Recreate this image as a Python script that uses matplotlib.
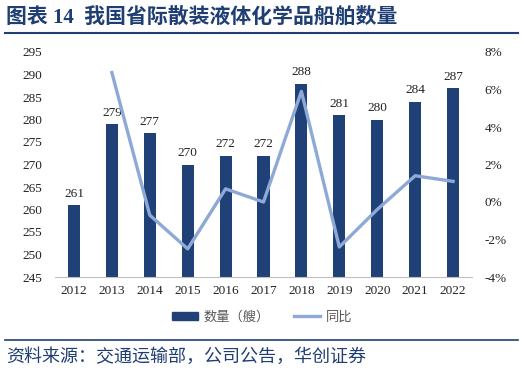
import matplotlib
matplotlib.use("Agg")
import matplotlib.pyplot as plt
from matplotlib.lines import Line2D
from matplotlib.patches import Patch

# Data
years = ['2012', '2013', '2014', '2015', '2016', '2017', '2018', '2019', '2020', '2021', '2022']
ships = [261, 279, 277, 270, 272, 272, 288, 281, 280, 284, 287]
yoy_years = years[1:]
yoy = [6.9, -0.7, -2.5, 0.7, 0.0, 5.9, -2.4, -0.4, 1.4, 1.1]

navy = '#1F4178'
light = '#8EA9D5'
title_blue = '#1F3E74'

serif = ['Liberation Serif', 'Noto Sans CJK SC']
cjk = ['Noto Sans CJK SC', 'DejaVu Sans']

fig = plt.figure(figsize=(5.24, 3.72), dpi=100)
ax = fig.add_axes([55 / 524, 1 - 277 / 372, (472 - 55) / 524, (277 - 52) / 372])
ax2 = ax.twinx()

# Bars on the left axis
x = list(range(len(years)))
ax.bar(x, [v - 245 for v in ships], bottom=245, width=0.32, color=navy, zorder=2)
for xi, v in zip(x, ships):
    ax.text(xi, v + 1.2, str(v), ha='center', va='bottom', fontsize=9.5,
            family=serif, color='#222222')

# Line on the right axis
x2 = list(range(1, len(years)))
ax2.plot(x2, yoy, color=light, linewidth=2.4, zorder=3)

ax.set_xlim(-0.5, len(years) - 0.5)
ax.set_ylim(245, 295)
ax.set_yticks(range(245, 296, 5))
ax2.set_ylim(-4, 8)
ax2.set_yticks(range(-4, 9, 2))
ax2.set_yticklabels([f'{t}%' for t in range(-4, 9, 2)])
ax.set_xticks(x)
ax.set_xticklabels(years)

for a in (ax, ax2):
    for s in a.spines.values():
        s.set_visible(False)
    a.tick_params(length=0, labelsize=9.5, colors='#222222')
    for lab in a.get_xticklabels() + a.get_yticklabels():
        lab.set_family(serif)
ax.spines['bottom'].set_visible(True)
ax.spines['bottom'].set_color('#BFBFBF')
ax.tick_params(axis='y', pad=9)
ax.tick_params(axis='x', pad=6)
ax2.tick_params(axis='y', pad=9)

# Legend
handles = [Patch(color=navy), Line2D([0], [0], color=light, linewidth=2.4)]
leg = fig.legend(handles, ['数量（艘）', '同比'], loc='center', bbox_to_anchor=(0.5, 1 - 317 / 372),
                 ncol=2, frameon=False, handlelength=2.0, handleheight=0.5, columnspacing=1.8,
                 handletextpad=0.4, prop={'family': cjk, 'size': 9.5})
for t in leg.get_texts():
    t.set_color('#595959')

# Title and separators
fig.text(6 / 524, 1 - 18 / 372, '图表 14  我国省际散装液体化学品船舶数量', ha='left', va='center',
         fontsize=15, fontweight='bold', color=title_blue, family=serif)
fig.add_artist(Line2D([5 / 524, 518 / 524], [1 - 33 / 372, 1 - 33 / 372], color=title_blue, linewidth=1.5))
fig.add_artist(Line2D([5 / 524, 518 / 524], [1 - 340 / 372, 1 - 340 / 372], color=title_blue, linewidth=1.2))
fig.text(6 / 524, 1 - 357 / 372, '资料来源：交通运输部，公司公告，华创证券', ha='left', va='center',
         fontsize=13, style='italic', color=title_blue, family=cjk)

fig.savefig('out.png', dpi=100)
